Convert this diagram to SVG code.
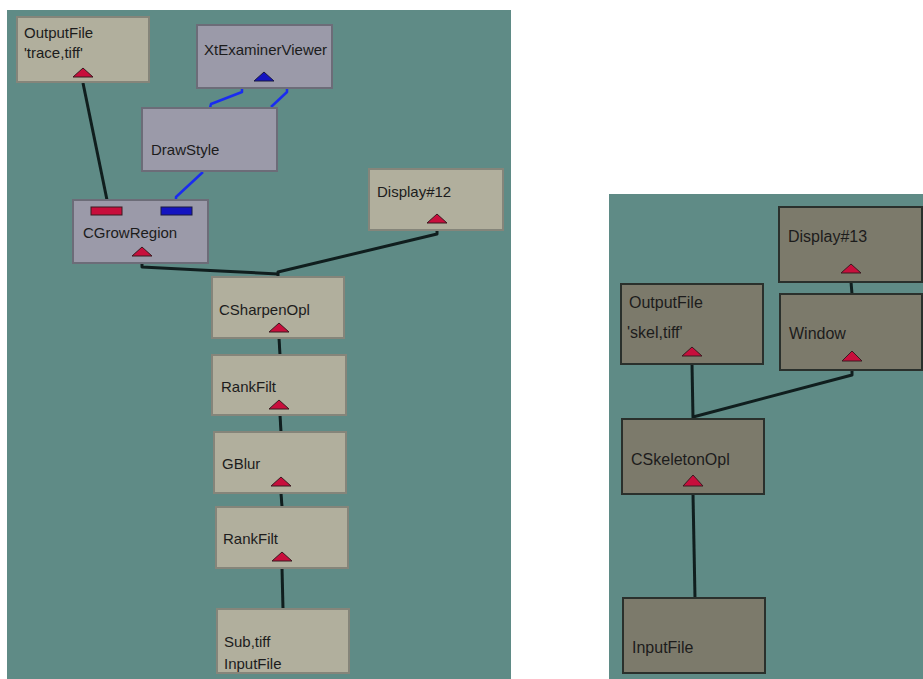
<svg xmlns="http://www.w3.org/2000/svg" width="923" height="679" viewBox="0 0 923 679">
  <style>
    .panel { fill: #5f8b86; }
    .beige { fill: #b1af9d; stroke: #85857a; stroke-width: 2; }
    .lav { fill: #9b9aa9; stroke: #6c6c78; stroke-width: 2; }
    .dark { fill: #7c7a6b; stroke: #2a302c; stroke-width: 2; }
    .lbl { font-family: "Liberation Sans", Arial, sans-serif; font-size: 15px; fill: #1c1c1c; }
    .lbl16 { font-family: "Liberation Sans", Arial, sans-serif; font-size: 16px; fill: #1c1c1c; }
    .tri-r { fill: #c80e3c; stroke: #3a1a20; stroke-width: 1; }
    .tri-b { fill: #1414c0; stroke: #1a1a40; stroke-width: 1; }
    .wire { fill: none; stroke: #101e1e; stroke-width: 3; stroke-linejoin: round; }
    .wire-b { fill: none; stroke: #1a2cf0; stroke-width: 2.5; stroke-linejoin: round; }
  </style>

  <rect width="923" height="679" fill="#ffffff"/>
  <!-- workspace panels -->
  <rect class="panel" x="7" y="10" width="504" height="669"/>
  <rect class="panel" x="609" y="194" width="314" height="485"/>

  <!-- connectors -->
  <g id="connectors">
    <polyline class="wire" points="83,83 107,200"/>
    <polyline class="wire-b" points="242,88 242,92 211,104 210,108"/>
    <polyline class="wire-b" points="287,88 287,92 271,107"/>
    <polyline class="wire-b" points="203,172 176,197 176,200"/>
    <polyline class="wire" points="142,263 142,267 200,270 278,274"/>
    <polyline class="wire" points="437,230 437,234 278,272 278,277"/>
    <polyline class="wire" points="279,338 280,355"/>
    <polyline class="wire" points="280,415 281,432"/>
    <polyline class="wire" points="281,493 282,507"/>
    <polyline class="wire" points="282,568 283,609"/>
    <polyline class="wire" points="851,282 852,294"/>
    <polyline class="wire" points="692,364 693,418"/>
    <polyline class="wire" points="852,370 852,375 693,417"/>
    <polyline class="wire" points="693,494 695,598"/>
  </g>

  <!-- left graph -->
  <g id="outputfile-trace">
    <rect class="beige" x="17" y="17" width="132" height="65"/>
    <text class="lbl" x="24" y="38">OutputFile</text>
    <text class="lbl" x="24" y="58">'trace,tiff'</text>
    <polygon class="tri-r" points="73,77 93,77 83,68"/>
  </g>
  <g id="xtexaminerviewer">
    <rect class="lav" x="197" y="25" width="135" height="63"/>
    <text class="lbl" x="204" y="55">XtExaminerViewer</text>
    <polygon class="tri-b" points="254,81 274,81 264,72"/>
  </g>
  <g id="drawstyle">
    <rect class="lav" x="142" y="108" width="135" height="63"/>
    <text class="lbl" x="151" y="155">DrawStyle</text>
  </g>
  <g id="cgrowregion">
    <rect class="lav" x="73" y="200" width="135" height="63"/>
    <rect x="91" y="207" width="31" height="8" fill="#c80e3c" stroke="#3a1a20" stroke-width="1"/>
    <rect x="161" y="207" width="31" height="8" fill="#1414c0" stroke="#1a1a40" stroke-width="1"/>
    <text class="lbl" x="83" y="238">CGrowRegion</text>
    <polygon class="tri-r" points="132,256 152,256 142,247"/>
  </g>
  <g id="display12">
    <rect class="beige" x="369" y="169" width="134" height="61"/>
    <text class="lbl" x="377" y="197">Display#12</text>
    <polygon class="tri-r" points="427,223 447,223 437,214"/>
  </g>
  <g id="csharpenopl">
    <rect class="beige" x="212" y="277" width="132" height="61"/>
    <text class="lbl" x="219" y="315">CSharpenOpl</text>
    <polygon class="tri-r" points="269,332 289,332 279,323"/>
  </g>
  <g id="rankfilt-1">
    <rect class="beige" x="212" y="355" width="134" height="60"/>
    <text class="lbl" x="221" y="392">RankFilt</text>
    <polygon class="tri-r" points="269,409 289,409 279,400"/>
  </g>
  <g id="gblur">
    <rect class="beige" x="214" y="432" width="132" height="61"/>
    <text class="lbl" x="222" y="469">GBlur</text>
    <polygon class="tri-r" points="271,486 291,486 281,477"/>
  </g>
  <g id="rankfilt-2">
    <rect class="beige" x="216" y="507" width="132" height="61"/>
    <text class="lbl" x="223" y="544">RankFilt</text>
    <polygon class="tri-r" points="272,561 292,561 282,552"/>
  </g>
  <g id="inputfile-sub">
    <rect class="beige" x="217" y="609" width="132" height="64"/>
    <text class="lbl" x="224" y="647">Sub,tiff</text>
    <text class="lbl" x="224" y="669">InputFile</text>
  </g>

  <!-- right graph -->
  <g id="display13">
    <rect class="dark" x="779" y="207" width="143" height="75"/>
    <text class="lbl16" x="788" y="242">Display#13</text>
    <polygon class="tri-r" points="841,273 861,273 851,264"/>
  </g>
  <g id="window">
    <rect class="dark" x="780" y="294" width="142" height="76"/>
    <text class="lbl16" x="789" y="339">Window</text>
    <polygon class="tri-r" points="842,361 862,361 852,351"/>
  </g>
  <g id="outputfile-skel">
    <rect class="dark" x="621" y="284" width="142" height="80"/>
    <text class="lbl16" x="629" y="308">OutputFile</text>
    <text class="lbl16" x="627" y="338">'skel,tiff'</text>
    <polygon class="tri-r" points="682,356 702,356 692,347"/>
  </g>
  <g id="cskeletonopl">
    <rect class="dark" x="622" y="419" width="142" height="75"/>
    <text class="lbl16" x="631" y="465">CSkeletonOpl</text>
    <polygon class="tri-r" points="683,486 703,486 693,475"/>
  </g>
  <g id="inputfile">
    <rect class="dark" x="623" y="598" width="142" height="75"/>
    <text class="lbl16" x="632" y="653">InputFile</text>
  </g>
</svg>
